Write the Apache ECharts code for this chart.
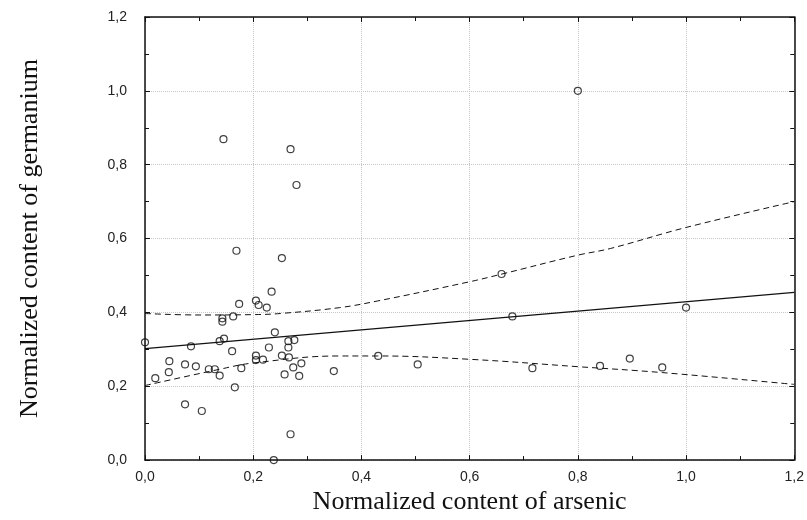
<!DOCTYPE html>
<html>
<head>
<meta charset="utf-8">
<script src="https://cdn.jsdelivr.net/npm/echarts@6/dist/echarts.min.js"></script>
<style>
  html, body { margin: 0; padding: 0; background: #fff; }
  #chart { width: 807px; height: 520px; }
</style>
</head>
<body>
<div id="chart"></div>
<script>
// scatter points
const arsenic = [
  0.000, 0.019, 0.045, 0.044, 0.085, 0.074, 0.094, 0.074, 0.105, 0.118,
  0.129, 0.138, 0.138, 0.146, 0.143, 0.143, 0.163, 0.161, 0.166, 0.178,
  0.174, 0.205, 0.210, 0.225, 0.240, 0.205, 0.205, 0.218, 0.229, 0.253,
  0.258, 0.265, 0.265, 0.266, 0.276, 0.274, 0.289, 0.285, 0.269, 0.238,
  0.349, 0.145, 0.269, 0.280, 0.169, 0.253, 0.234, 0.659, 0.679, 1.000,
  0.431, 0.504, 0.716, 0.841, 0.896, 0.956, 0.800
];
const germanium = [
  0.319, 0.222, 0.268, 0.238, 0.308, 0.259, 0.254, 0.151, 0.133, 0.246,
  0.246, 0.229, 0.322, 0.329, 0.384, 0.375, 0.389, 0.295, 0.197, 0.249,
  0.423, 0.432, 0.420, 0.413, 0.346, 0.283, 0.271, 0.272, 0.305, 0.283,
  0.232, 0.322, 0.305, 0.278, 0.325, 0.251, 0.262, 0.228, 0.070, 0.000,
  0.241, 0.869, 0.842, 0.745, 0.567, 0.547, 0.456, 0.504, 0.389, 0.413,
  0.282, 0.259, 0.249, 0.255, 0.275, 0.251, 1.000
];

// fitted line and its confidence band
const fitX = [0, 1.2];
const fitY = [0.302, 0.454];
const upperX = [0, 0.1, 0.2, 0.25, 0.36, 0.43, 0.6, 0.66, 0.8, 0.86, 1.0, 1.2];
const upperY = [0.397, 0.393, 0.394, 0.397, 0.413, 0.431, 0.483, 0.504, 0.555, 0.573, 0.630, 0.700];
const lowerX = [0, 0.138, 0.2, 0.36, 0.43, 0.6, 0.8, 0.956, 1.2];
const lowerY = [0.202, 0.246, 0.263, 0.282, 0.282, 0.273, 0.253, 0.237, 0.205];

const zip = (xs, ys) => xs.map((x, i) => [x, ys[i]]);
const fmt = v => v.toFixed(1).replace('.', ',');

const chart = echarts.init(document.getElementById('chart'));

const frameAxis = (extra) => Object.assign({
  type: 'value',
  min: 0,
  max: 1.2,
  interval: 0.2,
  axisLine: { show: true, onZero: false, lineStyle: { color: '#111', width: 1.5 } },
  axisTick: { show: true, inside: true, length: 5, lineStyle: { color: '#111' } },
  minorTick: { show: true, splitNumber: 2, length: 4, lineStyle: { color: '#111' } },
  splitLine: { show: false },
  axisLabel: { show: false }
}, extra);

const tickLabel = {
  show: true,
  formatter: fmt,
  color: '#222',
  fontSize: 14,
  fontFamily: 'Liberation Sans, Arial, sans-serif'
};
const nameStyle = {
  color: '#111',
  fontSize: 26,
  fontFamily: 'Liberation Serif, Times New Roman, serif'
};
const grid = { show: true, lineStyle: { color: '#c8c8c8', type: 'dotted', width: 1 } };

chart.setOption({
  animation: false,
  grid: { left: 145, right: 10, top: 17, bottom: 58 },
  xAxis: [
    frameAxis({
      position: 'bottom',
      splitLine: grid,
      axisLabel: Object.assign({}, tickLabel, { margin: 10 }),
      name: 'Normalized content of arsenic',
      nameLocation: 'middle',
      nameGap: 25,
      nameTextStyle: nameStyle
    }),
    frameAxis({ position: 'top' })
  ],
  yAxis: [
    frameAxis({
      position: 'left',
      splitLine: grid,
      axisLabel: Object.assign({}, tickLabel, { margin: 18 }),
      name: 'Normalized content of germanium',
      nameLocation: 'middle',
      nameGap: 102,
      nameTextStyle: nameStyle
    }),
    frameAxis({ position: 'right' })
  ],
  series: [
    {
      type: 'line',
      data: zip(upperX, upperY),
      smooth: 0.4,
      symbol: 'none',
      lineStyle: { color: '#111', width: 1, type: [6, 4] },
      z: 2
    },
    {
      type: 'line',
      data: zip(lowerX, lowerY),
      smooth: 0.4,
      symbol: 'none',
      lineStyle: { color: '#111', width: 1, type: [6, 4] },
      z: 2
    },
    {
      type: 'line',
      data: zip(fitX, fitY),
      symbol: 'none',
      lineStyle: { color: '#111', width: 1.2 },
      z: 2
    },
    {
      type: 'scatter',
      data: zip(arsenic, germanium),
      symbol: 'circle',
      symbolSize: 7,
      itemStyle: { color: 'transparent', borderColor: '#111', borderWidth: 1.2 },
      z: 3
    }
  ]
});
</script>
</body>
</html>
